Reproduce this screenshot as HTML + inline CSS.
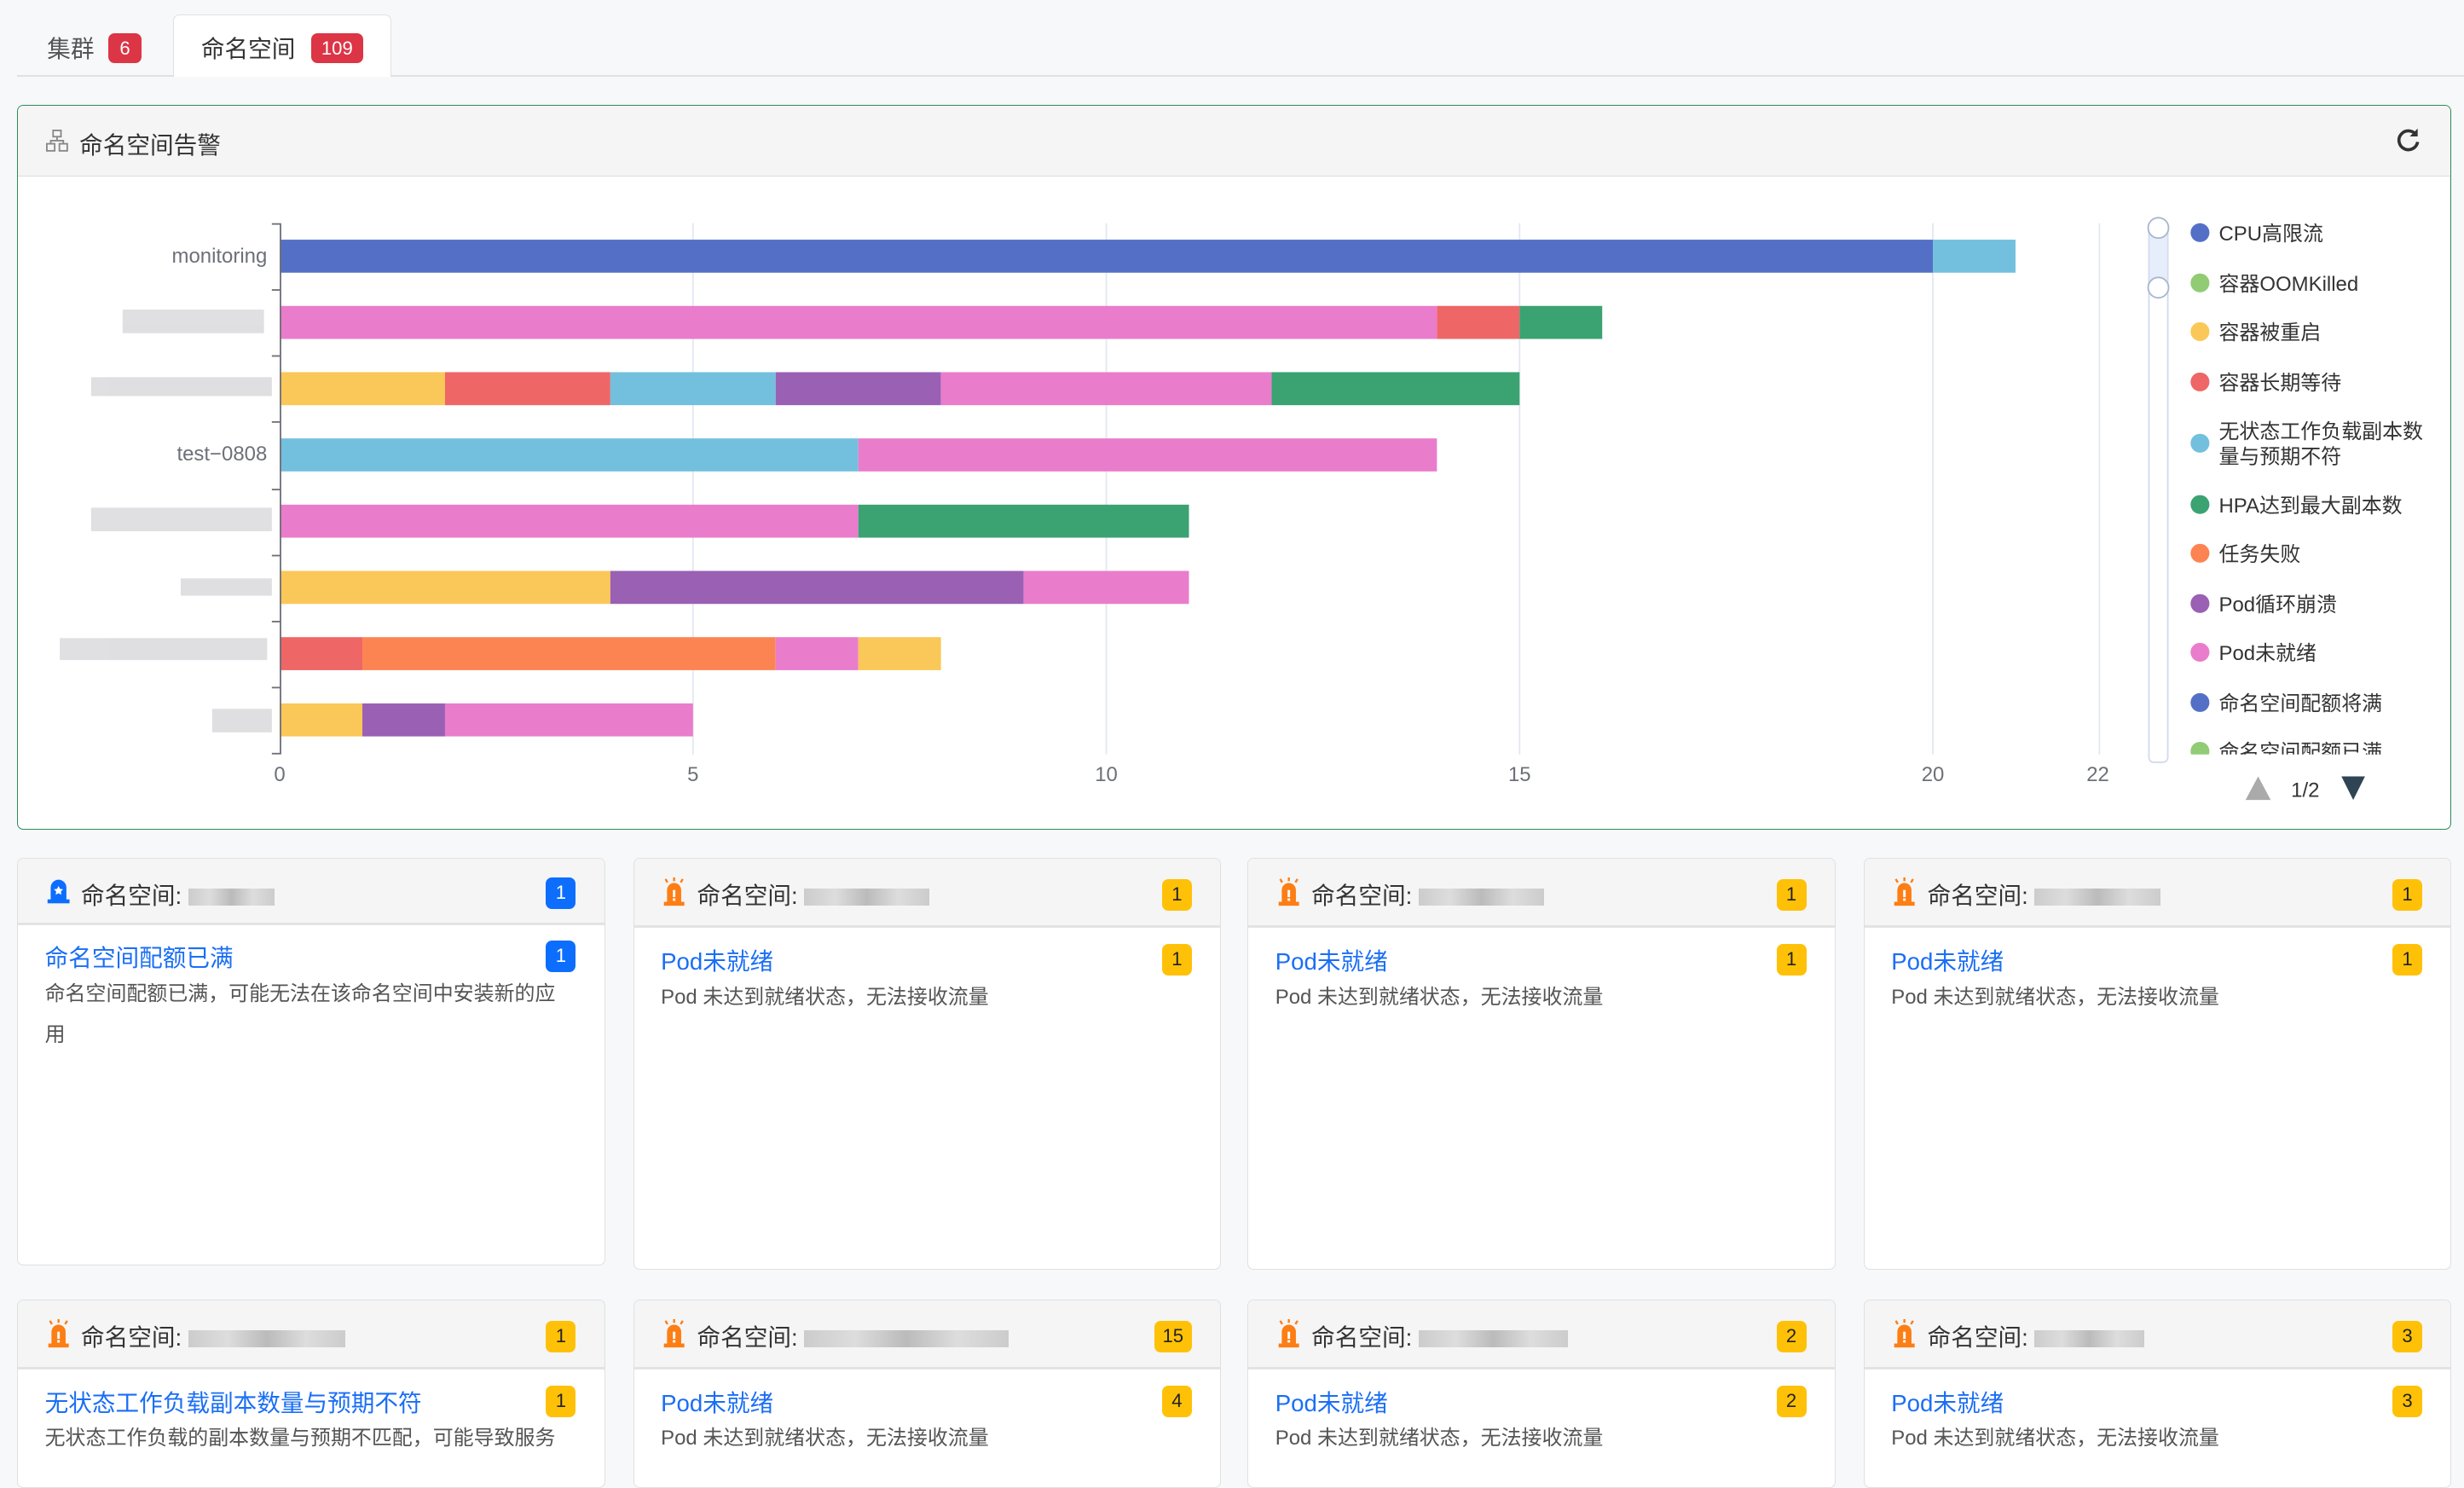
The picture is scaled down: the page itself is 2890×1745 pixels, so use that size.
<!DOCTYPE html>
<html><head><meta charset="utf-8">
<style>
*{box-sizing:border-box;margin:0;padding:0}
html,body{width:2890px;height:1714px;overflow:hidden;background:#f7f8fa}
#w{position:absolute;left:0;top:0;width:1568px;height:930px;zoom:1.84311;font-family:"Liberation Sans","Noto Sans CJK SC",sans-serif;color:#333}
.abs{position:absolute}
.badge{position:absolute;color:#fff;font-size:12px;border-radius:4px;text-align:center;line-height:19px;height:19px}
.red{background:#dc3545}
.card{position:absolute;background:#fff;border:1px solid #e0e0e0;border-radius:4px;overflow:hidden}
.ch{position:absolute;left:0;right:0;top:0;background:#f5f5f5;border-bottom:2px solid #e3e3e3}
.ch .t{position:absolute;left:40px;top:11px;font-size:15px;color:#333}
.blur{display:inline-block;width:60px;height:11px;background:linear-gradient(90deg,#ccc,#ddd,#bbb,#ddd,#ccc);vertical-align:middle;margin-left:4px}
.yb{position:absolute;background:#ffc107;color:#222;font-size:12px;border-radius:4px;width:19px;height:20px;line-height:20px;text-align:center}
.bb{background:#0d6efd;color:#fff}
.ti{position:absolute;left:17px;font-size:15px;color:#1a6ef5}
.de{position:absolute;left:17px;right:20px;font-size:13px;color:#555;line-height:26px}
</style></head><body><div id="w">
<!-- tabs -->
<div class="abs" style="left:11px;top:48px;width:1557px;height:1px;background:#dee2e6"></div>
<div class="abs" style="left:110px;top:9px;width:139px;height:40px;background:#fff;border:1px solid #dee2e6;border-bottom:none;border-radius:4px 4px 0 0"></div>
<div class="abs" style="left:30px;top:19px;font-size:15px;color:#555">集群</div>
<div class="badge red" style="left:69px;top:21px;width:21px">6</div>
<div class="abs" style="left:128px;top:19px;font-size:15px;color:#333">命名空间</div>
<div class="badge red" style="left:198px;top:21px;width:33px">109</div>
<!-- panel -->
<div class="abs" style="left:11px;top:67px;width:1549px;height:461px;background:#fff;border:1px solid #2e8b57;border-radius:4px;overflow:hidden">
 <div class="abs" style="left:0;top:0;right:0;height:45px;background:#f5f5f5;border-bottom:1px solid #ddd"></div>
 <svg class="abs" style="left:18px;top:15px" width="14" height="14" viewBox="0 0 14 14" fill="none" stroke="#888" stroke-width="1"><rect x="4.5" y="0.5" width="5" height="4"/><rect x="0.5" y="9" width="5" height="4.5"/><rect x="8.5" y="9" width="5" height="4.5"/><path d="M7 4.5V7M3 9V7h8v2"/></svg>
 <div class="abs" style="left:39px;top:13px;font-size:15px;color:#333">命名空间告警</div>
 <svg class="abs" style="left:1512px;top:13px" width="18" height="18" viewBox="0 0 18 18"><path d="M14 5.5A6 6 0 1 0 15 10" fill="none" stroke="#333" stroke-width="2"/><path d="M15 1.5v5h-5z" fill="#333"/></svg>
</div>
<svg class="abs" style="left:0;top:0" width="1568" height="930" font-family="Liberation Sans, Noto Sans CJK SC, sans-serif">
<g stroke="#e3e8f2" stroke-width="1">
<line x1="441" y1="142" x2="441" y2="480"/><line x1="704" y1="142" x2="704" y2="480"/><line x1="967" y1="142" x2="967" y2="480"/><line x1="1230" y1="142" x2="1230" y2="480"/><line x1="1336" y1="142" x2="1336" y2="480"/>
</g>
<g id="bars"></g>
<g stroke="#6e7079" stroke-width="1">
<line x1="178.5" y1="142" x2="178.5" y2="480"/>
<line x1="173" y1="142.5" x2="178" y2="142.5"/><line x1="173" y1="184.5" x2="178" y2="184.5"/><line x1="173" y1="226.5" x2="178" y2="226.5"/><line x1="173" y1="268.5" x2="178" y2="268.5"/><line x1="173" y1="311.5" x2="178" y2="311.5"/><line x1="173" y1="353.5" x2="178" y2="353.5"/><line x1="173" y1="395.5" x2="178" y2="395.5"/><line x1="173" y1="437.5" x2="178" y2="437.5"/><line x1="173" y1="479.5" x2="178" y2="479.5"/>
</g>
<g font-size="13" fill="#6e7079" text-anchor="middle">
<text x="178" y="497">0</text><text x="441" y="497">5</text><text x="704" y="497">10</text><text x="967" y="497">15</text><text x="1230" y="497">20</text><text x="1335" y="497">22</text>
</g>
<g font-size="13" fill="#6e7079" text-anchor="end">
<text x="170" y="167">monitoring</text><text x="170" y="293">test−0808</text>
</g>
<g fill="#d8d8dc" opacity="0.8">
<rect x="78" y="197" width="90" height="15"/><rect x="58" y="240" width="115" height="12"/><rect x="58" y="323" width="115" height="15"/><rect x="115" y="368" width="58" height="11"/><rect x="38" y="406" width="132" height="14"/><rect x="135" y="451" width="38" height="15"/>
</g>
<!-- legend slider -->
<rect x="1367.5" y="145" width="12" height="340" rx="3" fill="none" stroke="#d2dbee"/>
<rect x="1368" y="145" width="11" height="38" fill="#e6eefc"/>
<circle cx="1373.5" cy="145" r="6.5" fill="#fff" stroke="#a7b7cc"/>
<circle cx="1373.5" cy="183" r="6.5" fill="#fff" stroke="#a7b7cc"/>
<g font-size="13" fill="#333">
<circle cx="1400" cy="148" r="6" fill="#5470c6"/><text x="1412" y="153">CPU高限流</text>
<circle cx="1400" cy="180" r="6" fill="#91cc75"/><text x="1412" y="185">容器OOMKilled</text>
<circle cx="1400" cy="211" r="6" fill="#fac858"/><text x="1412" y="216">容器被重启</text>
<circle cx="1400" cy="243" r="6" fill="#ee6666"/><text x="1412" y="248">容器长期等待</text>
<circle cx="1400" cy="282" r="6" fill="#73c0de"/><text x="1412" y="279">无状态工作负载副本数</text><text x="1412" y="295">量与预期不符</text>
<circle cx="1400" cy="321" r="6" fill="#3ba272"/><text x="1412" y="326">HPA达到最大副本数</text>
<circle cx="1400" cy="352" r="6" fill="#fc8452"/><text x="1412" y="357">任务失败</text>
<circle cx="1400" cy="384" r="6" fill="#9a60b4"/><text x="1412" y="389">Pod循环崩溃</text>
<circle cx="1400" cy="415" r="6" fill="#ea7ccc"/><text x="1412" y="420">Pod未就绪</text>
<circle cx="1400" cy="447" r="6" fill="#5470c6"/><text x="1412" y="452">命名空间配额将满</text>
<clipPath id="cp"><rect x="1380" y="470" width="160" height="10"/></clipPath>
<g clip-path="url(#cp)"><circle cx="1400" cy="478" r="6" fill="#91cc75"/><text x="1412" y="483">命名空间配额已满</text></g>
</g>
<path d="M1437 494l-8 15h16z" fill="#aaa"/>
<text x="1467" y="507" font-size="13" fill="#333" text-anchor="middle">1/2</text>
<path d="M1490 494h15l-7.5 15z" fill="#2f4554"/>
</svg>
<!-- cards -->
<div id="cards"></div>
</div>
<script>
var C={b:"#5470c6",y:"#fac858",r:"#ee6666",c:"#73c0de",g:"#3ba272",o:"#fc8452",p:"#9a60b4",k:"#ea7ccc"};
var rows=[[["b",20],["c",1]],[["k",14],["r",1],["g",1]],[["y",2],["r",2],["c",2],["p",2],["k",4],["g",3]],[["c",7],["k",7]],[["k",7],["g",4]],[["y",4],["p",5],["k",2]],[["r",1],["o",5],["k",1],["y",1]],[["y",1],["p",1],["k",3]]];
var s="";rows.forEach(function(r,i){var x=0,cy=163+i*42.15;r.forEach(function(seg){s+='<rect x="'+(178+x*52.6)+'" y="'+(cy-10.5)+'" width="'+(seg[1]*52.6)+'" height="21" fill="'+C[seg[0]]+'"/>';x+=seg[1];});});
document.getElementById("bars").innerHTML=s;
var xs=[11,403,794,1186],h="";
var bell='<svg class="abs" style="left:17px;top:12px" width="17" height="18" viewBox="0 0 17 18"><path d="M4 17V8a4.5 4.5 0 0 1 9 0v9z" fill="#fd7e14"/><rect x="2" y="15.5" width="13" height="2.5" fill="#fd7e14"/><rect x="7.7" y="8" width="1.6" height="4.5" fill="#fff"/><rect x="7.7" y="13.3" width="1.6" height="1.6" fill="#fff"/><path d="M3 1l1.3 2.2M8.5 0v2.3M14 1l-1.3 2.2" stroke="#fd7e14" stroke-width="1.3"/></svg>';
var blue='<svg class="abs" style="left:17px;top:11px" width="17" height="18" viewBox="0 0 17 18"><path d="M3.5 16V7a5 5 0 0 1 10 0v9z" fill="#0d6efd"/><rect x="1.5" y="14.5" width="14" height="2.5" fill="#0d6efd"/><path d="M8.5 6l.9 1.8 2 .3-1.4 1.4.3 2-1.8-.9-1.8.9.3-2-1.4-1.4 2-.3z" fill="#fff"/></svg>';
var cards=[
[0,546,259,42,blue,true,"1","命名空间配额已满","命名空间配额已满，可能无法在该命名空间中安装新的应用",55],
[1,546,262,44,bell,false,"1","Pod未就绪","Pod 未达到就绪状态，无法接收流量",80],
[2,546,262,44,bell,false,"1","Pod未就绪","Pod 未达到就绪状态，无法接收流量",80],
[3,546,262,44,bell,false,"1","Pod未就绪","Pod 未达到就绪状态，无法接收流量",80],
[0,827,120,44,bell,false,"1","无状态工作负载副本数量与预期不符","无状态工作负载的副本数量与预期不匹配，可能导致服务",100,"1"],
[1,827,120,44,bell,false,"15","Pod未就绪","Pod 未达到就绪状态，无法接收流量",130,"4"],
[2,827,120,44,bell,false,"2","Pod未就绪","Pod 未达到就绪状态，无法接收流量",95,"2"],
[3,827,120,44,bell,false,"3","Pod未就绪","Pod 未达到就绪状态，无法接收流量",70,"3"]];
cards.forEach(function(c){var x=xs[c[0]],hh=c[3],cls=c[5]?"yb bb":"yb",w=c[6].length>1?24:19;
h+='<div class="card" style="left:'+x+'px;top:'+c[1]+'px;width:374px;height:'+c[2]+'px"><div class="ch" style="height:'+hh+'px">'+c[4]+'<div class="t">命名空间:<span class="blur" style="width:'+c[9]+'px"></span></div><div class="'+cls+'" style="right:'+(c[5]?18:18)+'px;top:'+(c[5]?12:13)+'px;width:'+w+'px">'+c[6]+'</div></div>'+
'<div class="ti" style="top:'+(hh+9)+'px">'+c[7]+'</div><div class="'+cls+'" style="right:18px;top:'+(hh+10)+'px">'+(c[10]||c[6])+'</div><div class="de" style="top:'+(hh+31)+'px">'+c[8]+'</div></div>';});
document.getElementById("cards").innerHTML=h;
</script>
</body></html>
